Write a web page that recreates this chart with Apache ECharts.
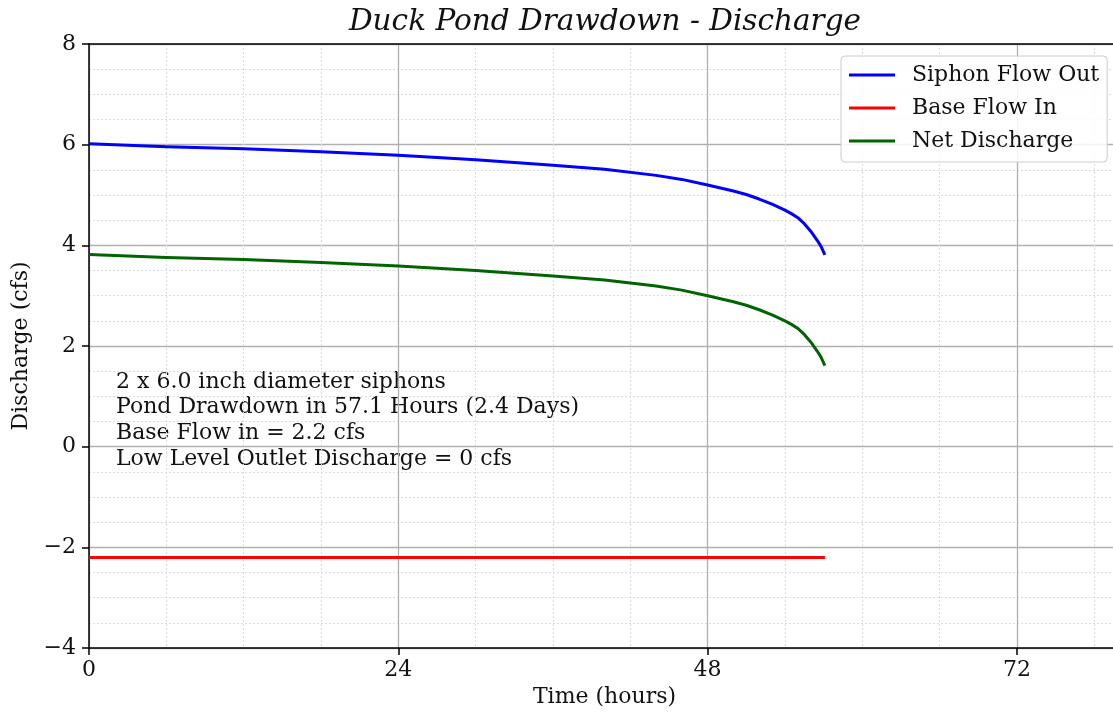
<!DOCTYPE html>
<html>
<head>
<meta charset="utf-8">
<script src="https://cdn.jsdelivr.net/npm/echarts@6/dist/echarts.min.js"></script>
<style>html,body{margin:0;padding:0;background:#fff;}#c{width:1113px;height:713px;}</style>
</head>
<body>
<div id="c"></div>
<script>
const hours = [0, 6, 12, 18, 24, 30, 36, 40, 44, 46, 48, 50, 51, 52, 53, 54, 54.5, 55, 55.5, 56, 56.5, 56.8, 57.1];
const siphonFlowOut = [6.02, 5.96, 5.92, 5.86, 5.79, 5.70, 5.59, 5.51, 5.39, 5.31, 5.20, 5.08, 5.01, 4.92, 4.82, 4.70, 4.63, 4.55, 4.43, 4.28, 4.10, 3.98, 3.81];
const netDischarge = [3.82, 3.76, 3.72, 3.66, 3.59, 3.50, 3.39, 3.31, 3.19, 3.11, 3.00, 2.88, 2.81, 2.72, 2.62, 2.50, 2.43, 2.35, 2.23, 2.08, 1.90, 1.78, 1.61];
const baseHours = [0, 57.1];
const baseFlowIn = [-2.2, -2.2];
const xTicks = [0, 24, 48, 72];
const yTicks = [-4, -2, 0, 2, 4, 6, 8];
const noteLines = [
  '2 x 6.0 inch diameter siphons',
  'Pond Drawdown in 57.1 Hours (2.4 Days)',
  'Base Flow in = 2.2 cfs',
  'Low Level Outlet Discharge = 0 cfs'
];

const FONT = 'DejaVu Serif';
const pair = (xs, ys) => xs.map((x, i) => [x, ys[i]]);

const chart = echarts.init(document.getElementById('c'), null, {renderer: 'canvas'});
chart.setOption({
  animation: false,
  backgroundColor: '#fff',
  title: {
    text: 'Duck Pond Drawdown - Discharge',
    left: 600, top: 2, textAlign: 'center',
    textStyle: {fontFamily: FONT, fontStyle: 'italic', fontWeight: 'normal', fontSize: 29.5, color: '#111'}
  },
  grid: {left: 89, top: 44, width: 1031, bottom: 65, containLabel: false, outerBoundsMode: 'none'},
  legend: {
    orient: 'vertical', left: 841, top: 56,
    padding: [8, 8, 10, 8], itemGap: 11,
    backgroundColor: 'rgba(255,255,255,0.85)', borderColor: '#cccccc', borderWidth: 1, borderRadius: 4,
    itemWidth: 46, itemHeight: 3, icon: 'rect',
    textStyle: {fontFamily: FONT, fontSize: 22, color: '#111', padding: [0, 0, 0, 12], lineHeight: 22},
    data: ['Siphon Flow Out', 'Base Flow In', 'Net Discharge']
  },
  graphic: [{
    type: 'text', left: 116, top: 369,
    style: {text: noteLines.join('\n'), fontFamily: FONT, fontSize: 22, lineHeight: 25.7, fill: '#111'}
  }],
  xAxis: [{
    type: 'value', min: 0, max: 80, interval: 24,
    name: 'Time (hours)', nameLocation: 'middle', nameGap: 38,
    nameTextStyle: {fontFamily: FONT, fontSize: 22, color: '#111'},
    axisLine: {show: true, onZero: false, lineStyle: {color: '#000', width: 1.5}},
    axisTick: {show: true, length: 7, lineStyle: {color: '#000', width: 1.5}},
    axisLabel: {fontFamily: FONT, fontSize: 22, color: '#111', margin: 11,
      formatter: v => xTicks.includes(v) ? String(v) : ''},
    splitLine: {show: true, lineStyle: {color: '#b0b0b0', width: 1.3}},
    minorTick: {show: false, splitNumber: 4},
    minorSplitLine: {show: true, lineStyle: {color: '#dcdcdc', width: 1, type: [2, 2]}}
  }, {
    type: 'value', position: 'top', min: 0, max: 80, interval: 24,
    axisLine: {show: true, onZero: false, lineStyle: {color: '#000', width: 1.5}},
    axisTick: {show: false}, axisLabel: {show: false}, splitLine: {show: false}
  }],
  yAxis: {
    type: 'value', min: -4, max: 8, interval: 2,
    name: 'Discharge (cfs)', nameLocation: 'middle', nameGap: 51,
    nameTextStyle: {fontFamily: FONT, fontSize: 22, color: '#111'},
    axisLine: {show: true, onZero: false, lineStyle: {color: '#000', width: 1.5}},
    axisTick: {show: true, length: 7, lineStyle: {color: '#000', width: 1.5}},
    axisLabel: {fontFamily: FONT, fontSize: 22, color: '#111', margin: 13,
      formatter: v => yTicks.includes(v) ? (v < 0 ? '\u2212' + Math.abs(v) : String(v)) : ''},
    splitLine: {show: true, lineStyle: {color: '#b0b0b0', width: 1.3}},
    minorTick: {show: false, splitNumber: 4},
    minorSplitLine: {show: true, lineStyle: {color: '#dcdcdc', width: 1, type: [2, 2]}}
  },
  series: [{
    name: 'Siphon Flow Out', type: 'line', data: pair(hours, siphonFlowOut),
    smooth: false, showSymbol: false, symbol: 'none', color: '#0000ff', lineStyle: {color: '#0000ff', width: 3, join: 'round'}
  }, {
    name: 'Base Flow In', type: 'line', data: pair(baseHours, baseFlowIn),
    showSymbol: false, symbol: 'none', color: '#ff0000', lineStyle: {color: '#ff0000', width: 3}
  }, {
    name: 'Net Discharge', type: 'line', data: pair(hours, netDischarge),
    smooth: false, showSymbol: false, symbol: 'none', color: '#006400', lineStyle: {color: '#006400', width: 3, join: 'round'}
  }]
});
</script>
</body>
</html>
